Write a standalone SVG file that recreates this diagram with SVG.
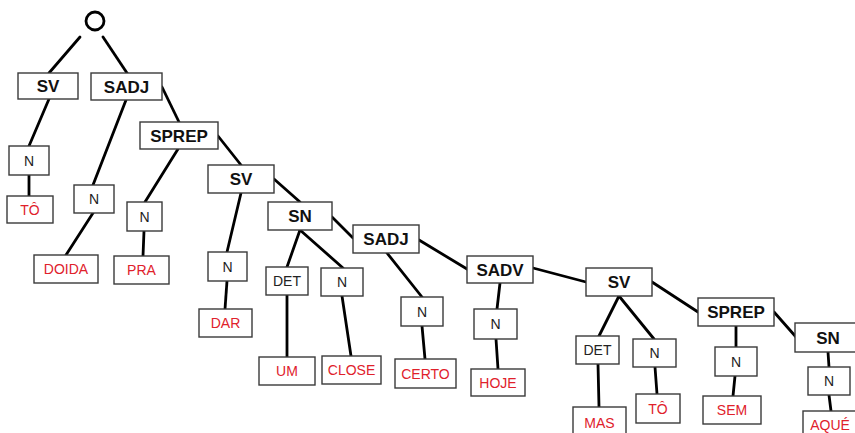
<svg xmlns="http://www.w3.org/2000/svg" width="855" height="433" viewBox="0 0 855 433">
<style>
  rect { fill: #ffffff; stroke: #3a3a3a; stroke-width: 1.4; }
  .ph { font-family: "Liberation Sans", Arial, sans-serif; font-weight: bold; font-size: 17px; fill: #111; text-anchor: middle; }
  .cat { font-family: "Liberation Sans", Arial, sans-serif; font-size: 14px; fill: #222; text-anchor: middle; }
  .w { font-family: "Liberation Sans", Arial, sans-serif; font-size: 14px; fill: #e0212b; text-anchor: middle; }
  #connectors line { stroke: #000; stroke-width: 2.8; stroke-linecap: round; }
  circle { fill: none; stroke: #000; stroke-width: 2.8; }
</style>
<rect x="0" y="0" width="855" height="433" style="fill:#fff;stroke:none"/>
<g id="connectors">
  <line x1="80" y1="37" x2="49" y2="73"/>
  <line x1="103" y1="37" x2="127" y2="73"/>
  <line x1="49" y1="99" x2="29" y2="146"/>
  <line x1="29" y1="175" x2="29" y2="196"/>
  <line x1="126" y1="100" x2="93" y2="185"/>
  <line x1="93" y1="213" x2="66" y2="255"/>
  <line x1="162" y1="87" x2="179" y2="122"/>
  <line x1="178" y1="149" x2="145" y2="202"/>
  <line x1="144" y1="231" x2="143" y2="256"/>
  <line x1="218" y1="136" x2="241" y2="165"/>
  <line x1="241" y1="193" x2="227" y2="252"/>
  <line x1="227" y1="281" x2="225" y2="309"/>
  <line x1="274" y1="179" x2="300" y2="202"/>
  <line x1="300" y1="230" x2="287" y2="267"/>
  <line x1="300" y1="230" x2="343" y2="268"/>
  <line x1="287" y1="295" x2="287" y2="357"/>
  <line x1="342" y1="296" x2="351" y2="356"/>
  <line x1="332" y1="217" x2="353" y2="238"/>
  <line x1="387" y1="253" x2="422" y2="297"/>
  <line x1="422" y1="326" x2="425" y2="359"/>
  <line x1="419" y1="240" x2="467" y2="269"/>
  <line x1="500" y1="283" x2="497" y2="309"/>
  <line x1="496" y1="339" x2="498" y2="369"/>
  <line x1="533" y1="268" x2="586" y2="282"/>
  <line x1="619" y1="296" x2="599" y2="336"/>
  <line x1="619" y1="296" x2="654" y2="339"/>
  <line x1="598" y1="364" x2="599" y2="407"/>
  <line x1="655" y1="367" x2="657" y2="394"/>
  <line x1="652" y1="282" x2="698" y2="312"/>
  <line x1="736" y1="326" x2="736" y2="347"/>
  <line x1="735" y1="376" x2="733" y2="396"/>
  <line x1="774" y1="312" x2="796" y2="337"/>
  <line x1="828" y1="352" x2="829" y2="367"/>
  <line x1="829" y1="395" x2="831" y2="411"/>
</g>
<g id="root"><circle cx="95" cy="21" r="9"/></g>
<g id="sv1"><rect x="18" y="73" width="60" height="26"/><text class="ph" x="48" y="92">SV</text></g>
<g id="sadj1"><rect x="91" y="73" width="71" height="27"/><text class="ph" x="126.5" y="92.5">SADJ</text></g>
<g id="n1"><rect x="9" y="146" width="40" height="29"/><text class="cat" x="29" y="165.5">N</text></g>
<g id="to1"><rect x="7" y="196" width="46" height="27"/><text class="w" x="30" y="215">TÔ</text></g>
<g id="n2"><rect x="74" y="185" width="40" height="28"/><text class="cat" x="94" y="204">N</text></g>
<g id="doida"><rect x="34" y="255" width="64" height="28"/><text class="w" x="66" y="274">DOIDA</text></g>
<g id="sprep1"><rect x="140" y="122" width="78" height="27"/><text class="ph" x="179" y="141.5">SPREP</text></g>
<g id="n3"><rect x="127" y="202" width="35" height="29"/><text class="cat" x="144.5" y="221.5">N</text></g>
<g id="pra"><rect x="114" y="256" width="55" height="28"/><text class="w" x="141.5" y="275">PRA</text></g>
<g id="sv2"><rect x="208" y="165" width="66" height="28"/><text class="ph" x="241" y="185">SV</text></g>
<g id="n4"><rect x="208" y="252" width="39" height="29"/><text class="cat" x="227.5" y="271.5">N</text></g>
<g id="dar"><rect x="199" y="309" width="53" height="28"/><text class="w" x="225.5" y="328">DAR</text></g>
<g id="sn1"><rect x="268" y="202" width="64" height="28"/><text class="ph" x="300" y="222">SN</text></g>
<g id="det1"><rect x="266" y="267" width="42" height="28"/><text class="cat" x="287" y="286">DET</text></g>
<g id="n5"><rect x="321" y="268" width="42" height="28"/><text class="cat" x="342" y="287">N</text></g>
<g id="um"><rect x="259" y="357" width="56" height="28"/><text class="w" x="287" y="376">UM</text></g>
<g id="close"><rect x="322" y="356" width="59" height="28"/><text class="w" x="351.5" y="375">CLOSE</text></g>
<g id="sadj2"><rect x="353" y="225" width="66" height="28"/><text class="ph" x="386" y="245">SADJ</text></g>
<g id="n6"><rect x="401" y="297" width="42" height="29"/><text class="cat" x="422" y="316.5">N</text></g>
<g id="certo"><rect x="395" y="359" width="61" height="29"/><text class="w" x="425.5" y="378.5">CERTO</text></g>
<g id="sadv"><rect x="467" y="256" width="66" height="27"/><text class="ph" x="500" y="275.5">SADV</text></g>
<g id="n7"><rect x="474" y="309" width="43" height="30"/><text class="cat" x="495.5" y="329">N</text></g>
<g id="hoje"><rect x="471" y="369" width="54" height="27"/><text class="w" x="498" y="387.5">HOJE</text></g>
<g id="sv3"><rect x="586" y="268" width="66" height="28"/><text class="ph" x="619" y="288">SV</text></g>
<g id="det2"><rect x="576" y="336" width="43" height="28"/><text class="cat" x="597.5" y="355">DET</text></g>
<g id="n8"><rect x="633" y="339" width="43" height="28"/><text class="cat" x="654.5" y="358">N</text></g>
<g id="mas"><rect x="573" y="407" width="53" height="28"/><text class="w" x="599.5" y="428">MAS</text></g>
<g id="to2"><rect x="636" y="394" width="44" height="29"/><text class="w" x="658" y="413.5">TÔ</text></g>
<g id="sprep2"><rect x="698" y="298" width="76" height="28"/><text class="ph" x="736" y="318">SPREP</text></g>
<g id="n9"><rect x="715" y="347" width="42" height="29"/><text class="cat" x="736" y="366.5">N</text></g>
<g id="sem"><rect x="703" y="396" width="58" height="28"/><text class="w" x="732" y="415">SEM</text></g>
<g id="sn2"><rect x="795" y="323" width="66" height="29"/><text class="ph" x="828" y="343.5">SN</text></g>
<g id="n10"><rect x="808" y="367" width="42" height="28"/><text class="cat" x="829" y="386">N</text></g>
<g id="aque"><rect x="803" y="411" width="55" height="28"/><text class="w" x="830" y="430">AQUÉ</text></g>
</svg>
